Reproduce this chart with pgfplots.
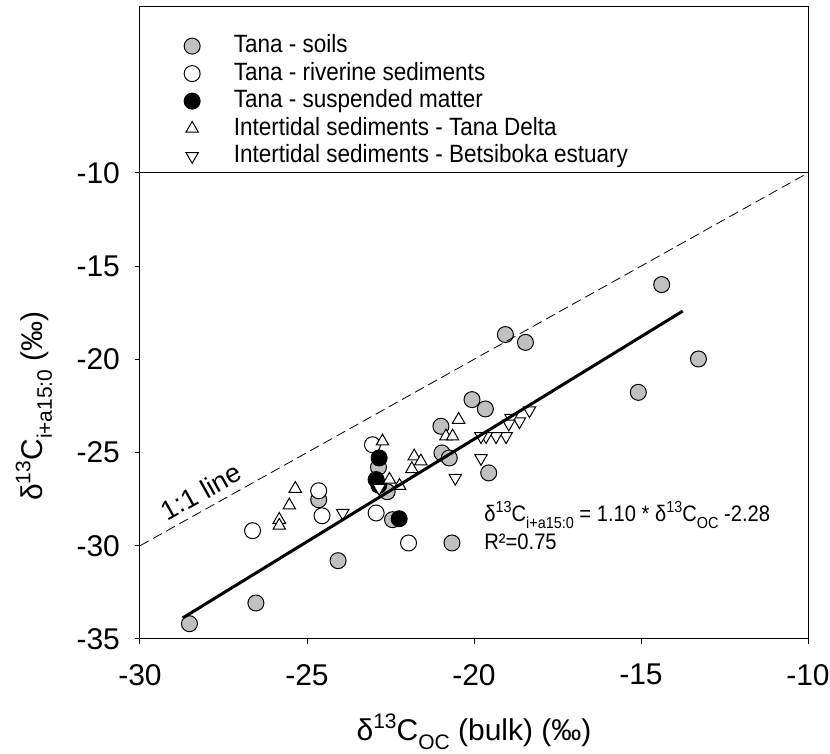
\documentclass[border=0pt]{standalone}
\usepackage{fontspec}
\setmainfont{Liberation Sans}
\newfontfamily\narrowfont[FakeStretch=0.9]{Liberation Sans}
\usepackage{pgfplots}
\pgfplotsset{compat=1.18}
\definecolor{soil}{RGB}{192,192,192}
\newcommand{\lo}[2]{\raisebox{-0.3em}{\fontsize{#1}{#1}\selectfont #2}}
\newcommand{\hi}[2]{\raisebox{0.42em}{\fontsize{#1}{#1}\selectfont #2}}
\begin{document}
\begin{tikzpicture}
\useasboundingbox (-70pt,-57.5pt) rectangle (345pt,319.5pt);
\begin{axis}[
  at={(0,0)}, anchor=south west,
  scale only axis, width=334pt, height=316pt,
  xmin=-30, xmax=-10, ymin=-35, ymax=-1.1,
  clip mode=individual,
  xtick={-30,-25,...,-10}, ytick={-35,-30,...,-10},
  minor tick num=0,
  tick align=outside, major tick length=2.5pt,
  xtick pos=bottom, ytick pos=left,
  axis line style={line width=0.5pt},
  every tick/.style={black, line width=0.5pt},
  tick label style={font=\fontsize{15}{17}\selectfont},
  /pgf/number format/assume math mode=true,
  xticklabel style={yshift=-6.5pt},
  yticklabel style={xshift=-4pt},
  legend style={draw=none, fill=none, at={(axis cs:-28.69,-2.56)}, anchor=north west,
    font=\narrowfont\fontsize{12.5}{14}\selectfont, row sep=2.25pt, inner sep=0pt,
    nodes={inner sep=0pt, text height=9pt, text depth=2.5pt},
    /tikz/every odd column/.append style={column sep=16.9pt}},
  legend cell align=left,
]
\addplot[only marks, mark=*, mark size=4pt, mark options={fill=soil, draw=black, line width=0.5pt}]
coordinates {(-28.52,-34.18) (-26.53,-33.07) (-24.07,-30.8) (-24.65,-27.53) (-22.86,-25.79) (-22.6,-27.1) (-22.44,-28.6) (-20.99,-23.59) (-20.96,-25.02) (-20.74,-25.29) (-20.66,-29.85) (-20.06,-22.16) (-19.66,-22.66) (-19.56,-26.09) (-19.06,-18.67) (-18.46,-19.09) (-15.08,-21.77) (-14.38,-15.99) (-13.28,-19.98)};
\addlegendentry{Tana - soils}
\addplot[only marks, mark=*, mark size=4pt, mark options={fill=white, draw=black, line width=0.5pt}]
coordinates {(-26.63,-29.19) (-24.65,-27.05) (-24.55,-28.39) (-23.04,-24.58) (-22.93,-28.24) (-21.96,-29.85)};
\addlegendentry{Tana - riverine sediments}
\addplot[only marks, mark=*, mark size=4pt, mark options={fill=black, draw=black, line width=0.5pt}]
coordinates {(-22.84,-25.29) (-22.93,-26.45) (-22.85,-26.75) (-22.24,-28.55)};
\addlegendentry{Tana - suspended matter}
\addplot[only marks, mark=triangle*, mark size=3.6pt, mark options={fill=white, draw=black, line width=0.5pt}]
coordinates {(-25.35,-26.94) (-25.53,-27.83) (-25.83,-28.6) (-25.83,-28.92) (-22.74,-24.40) (-22.53,-26.45) (-22.23,-26.78) (-21.79,-25.2) (-21.59,-25.47) (-21.86,-25.88) (-20.46,-23.24) (-20.84,-24.13) (-20.64,-24.13)};
\addlegendentry{Intertidal sediments - Tana Delta}
\addplot[only marks, mark=triangle*, mark size=3.6pt, mark options={fill=white, draw=black, line width=0.5pt, rotate=180}]
coordinates {(-23.93,-28.24) (-22.84,-26.9) (-20.56,-26.36) (-19.79,-25.3) (-18.34,-22.74) (-18.64,-23.33) (-18.89,-23.15) (-18.96,-23.45) (-19.04,-24.13) (-19.34,-24.13) (-19.64,-24.13) (-19.79,-24.13)};
\addlegendentry{Intertidal sediments - Betsiboka estuary}
% lines
\addplot[forget plot, black, line width=0.5pt] coordinates {(-30,-10) (-10,-10)};
\addplot[forget plot, black, line width=0.4pt, dash pattern=on 5pt off 2.5pt] coordinates {(-30,-30) (-10,-10)};
\addplot[forget plot, black, line width=1.5pt] coordinates {(-28.72,-33.87) (-13.75,-17.41)};
% annotations
\node[anchor=base west, font=\narrowfont\fontsize{11.2}{13}\selectfont, inner sep=0pt] at (axis cs:-19.7,-28.7)
  {δ\hi{8}{13}C\lo{8}{i+a15:0} = 1.10 * δ\hi{8}{13}C\lo{8}{OC} -2.28};
\node[anchor=base west, font=\narrowfont\fontsize{11.2}{13}\selectfont, inner sep=0pt] at (axis cs:-19.7,-30.2)
  {R²=0.75};
\node[rotate=29.2, font=\fontsize{13.5}{15}\selectfont, inner sep=0pt] at (axis cs:-28.17,-27.08) {1:1 line};
\node[anchor=base, font=\fontsize{15}{17}\selectfont, inner sep=0pt] at ([yshift=-51pt]axis cs:-20,-35)
  {δ\hi{10.5}{13}C\lo{10.5}{OC} (bulk) (‰)};
\node[anchor=base, rotate=90, font=\fontsize{15}{17}\selectfont, inner sep=0pt] at ([xshift=-48.5pt]axis cs:-30,-22.5)
  {δ\hi{10.5}{13}C\lo{10.5}{i+a15:0} (‰)};
\end{axis}
\end{tikzpicture}
\end{document}
